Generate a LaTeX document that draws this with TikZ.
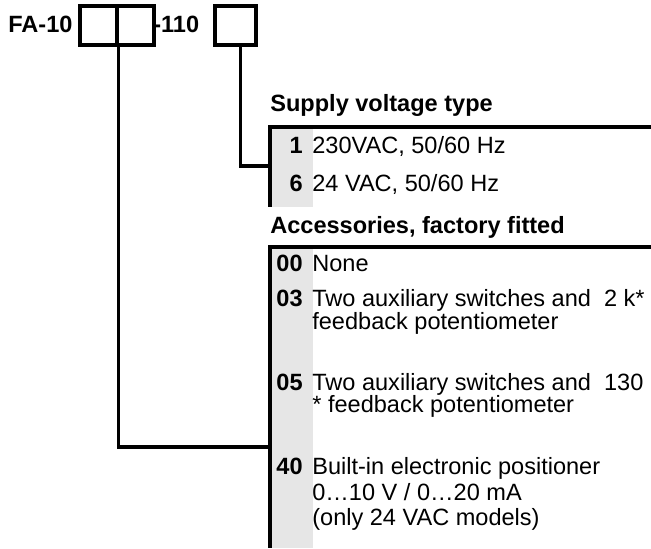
\documentclass[tikz,border=0pt]{standalone}
\usepackage{fontspec}
\setmainfont{Liberation Sans}
\usetikzlibrary{positioning}
\definecolor{Ink}{HTML}{000000}
\definecolor{Shade}{HTML}{E6E6E6}

\begin{document}
\begin{tikzpicture}[x=0.02cm,y=-0.02cm,
  heading/.style={anchor=base west,inner sep=0pt,font=\fontsize{13.4}{16}\selectfont\bfseries},
  num/.style={anchor=base east,inner sep=0pt,font=\fontsize{13.4}{16}\selectfont\bfseries},
  entry/.style={anchor=base west,inner sep=0pt,font=\fontsize{13.4}{16}\selectfont},
  digit/.style={draw=Ink,line width=1.8pt,minimum height=0.78cm,inner sep=0pt},
  rule/.style={draw=Ink,line width=1.8pt},
  link/.style={draw=Ink,line width=1.8pt}
]
\useasboundingbox (0,0) rectangle (651,548);
\node[heading] (type) at (8,32) {FA-10};
\node[digit,minimum width=0.74cm] (d1) at (98.5,25.5) {};
\node[digit,minimum width=0.74cm] (d2) at (135.5,25.5) {};
\node[heading] (dash) at (153,32) {-110};
\node[digit,minimum width=0.82cm] (d3) at (235.5,25.5) {};
\fill[Shade] (270,127) rectangle (313,207);
\draw[rule] (651,127) -- (270,127) -- (270,207);
\fill[Shade] (270,247) rectangle (313,548);
\draw[rule] (651,247) -- (270,247) -- (270,548);
\coordinate (supin) at (270,166);
\coordinate (accin) at (270,447);
\draw[link] ([xshift=0.1cm]d3.south) |- (supin);
\draw[link] (d1.south east) |- (accin);
\node[heading] (suptitle) at (270,111) {Supply voltage type};
\node[num] (s1) at (303,153) {1};
\node[entry] (s1t) at (312,153) {230VAC, 50/60 Hz};
\node[num] (s6) at (303,191) {6};
\node[entry] (s6t) at (312,191) {24 VAC, 50/60 Hz};
\node[heading] (acctitle) at (270,233) {Accessories, factory fitted};
\node[num] (a00) at (303,271) {00};
\node[entry] (a00t) at (312,271) {None};
\node[num] (a03) at (303,306) {03};
\node[entry] (a03t) at (312,306) {Two auxiliary switches and~~2 k*};
\node[entry] (a03u) at (312,329) {feedback potentiometer};
\node[num] (a05) at (303,390) {05};
\node[entry] (a05t) at (312,390) {Two auxiliary switches and~~130};
\node[entry] (a05u) at (312,412) {* feedback potentiometer};
\node[num] (a40) at (303,474) {40};
\node[entry] (a40t) at (312,474) {Built-in electronic positioner};
\node[entry] (a40u) at (312,500) {0…10 V / 0…20 mA};
\node[entry] (a40v) at (312,525) {(only 24 VAC models)};
\end{tikzpicture}
\end{document}
